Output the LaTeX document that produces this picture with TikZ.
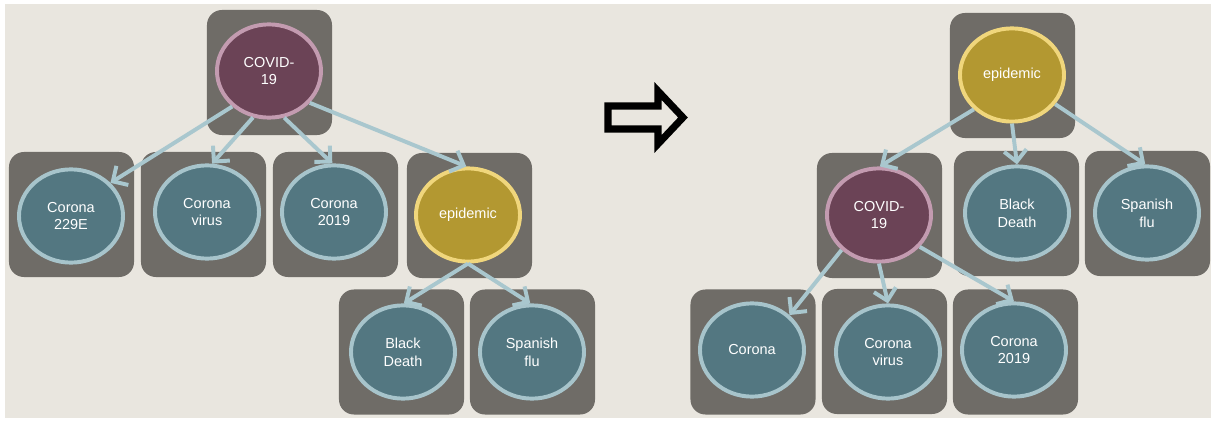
\documentclass[tikz,border=0pt]{standalone}
\usepackage{fontspec}
\setmainfont{Liberation Sans}
\usetikzlibrary{arrows.meta,shapes.geometric,shadows}

\definecolor{pagebg}{HTML}{E9E6DF}
\definecolor{boxgray}{HTML}{6F6C67}
\definecolor{tealfill}{HTML}{537781}
\definecolor{tealrim}{HTML}{A7C4CB}
\definecolor{covidfill}{HTML}{6B4356}
\definecolor{covidrim}{HTML}{C39BB0}
\definecolor{epifill}{HTML}{B39831}
\definecolor{epirim}{HTML}{F0D67C}
\definecolor{linkblue}{HTML}{A9C7CE}

\begin{document}
\begin{tikzpicture}[x=0.025cm,y=-0.025cm,
  tile/.style={fill=boxgray,rounded corners=0.375cm,minimum width=3.125cm,minimum height=3.125cm,inner sep=0pt},
  term/.style={ellipse,line width=2.8pt,minimum width=2.6cm,minimum height=2.33cm,inner sep=0pt,
    text=white,align=center,font=\fontsize{10.3}{12.6}\selectfont,
    drop shadow={shadow xshift=0pt,shadow yshift=-1.2pt,opacity=0.35}},
  leaf/.style={term,draw=tealrim,fill=tealfill},
  covid/.style={term,draw=covidrim,fill=covidfill},
  epi/.style={term,draw=epirim,fill=epifill},
  link/.style={draw=linkblue,line width=2.8pt,-{Straight Barb[length=8pt,width=16pt]}}]

% Background
\useasboundingbox (0,0) rectangle (1213,421);
\fill[white] (0,0) rectangle (1213,421);
\fill[pagebg] (5,4) rectangle (1211,418);

% Left tree: the tiles
\node[tile] (tlcovid) at (269.5,72.5) {};
\node[tile] (tlczze) at (71.5,214.5) {};
\node[tile] (tlcvirus) at (203.5,214.5) {};
\node[tile] (tlcnineteen) at (335.5,214.5) {};
\node[tile] (tlepi) at (469.5,215.5) {};
\node[tile] (tlblack) at (401.5,352) {};
\node[tile] (tlspanish) at (532.5,352) {};

% Left tree: the terms
\node[covid] (lcovid) at (269,71) {COVID-\\19};
\node[leaf] (lczze) at (71,216) {Corona\\229E};
\node[leaf] (lcvirus) at (207,212) {Corona\\virus};
\node[leaf] (lcnineteen) at (334,212) {Corona\\2019};
\node[epi] (lepi) at (468,215) {epidemic};
\node[leaf] (lblack) at (403,352) {Black\\Death};
\node[leaf] (lspanish) at (532,352) {Spanish\\flu};

% Left tree: the links
\draw[link] (lcovid.224) -- (lczze.40);
\draw[link] (lcovid.251) -- (lcvirus.84);
\draw[link] (lcovid.288) -- (lcnineteen.92);
\draw[link] (lcovid.322) -- (lepi.92);
\draw[link] (lepi.270) -- (lblack.89);
\draw[link] (lepi.270) -- (lspanish.92);

% The big arrow in the middle
\draw[line width=5pt,miter limit=10] (608,106) -- (658,106) -- (658,91) -- (683,117.5)
  -- (658,144) -- (658,129) -- (608,129) -- cycle;

% Right tree: the tiles
\node[tile] (trepi) at (1012.5,75.5) {};
\node[tile] (trblack) at (1016.5,213.5) {};
\node[tile] (trspanish) at (1147.5,213.5) {};
\node[tile] (trcovid) at (879.5,215.5) {};
\node[tile] (trcorona) at (753,352) {};
\node[tile] (trcvirus) at (884.5,351.5) {};
\node[tile] (trcnineteen) at (1015.5,352) {};

% Right tree: the terms
\node[epi] (repi) at (1012,75) {epidemic};
\node[leaf] (rblack) at (1017,213) {Black\\Death};
\node[leaf] (rspanish) at (1147,213) {Spanish\\flu};
\node[covid] (rcovid) at (879,215) {COVID-\\19};
\node[leaf] (rcorona) at (752,350) {Corona};
\node[leaf] (rcvirus) at (888,352) {Corona\\virus};
\node[leaf] (rcnineteen) at (1014,350) {Corona\\2019};

% Right tree: the links
\draw[link] (repi.222) -- (rcovid.89);
\draw[link] (repi.270) -- (rblack.90);
\draw[link] (repi.326) -- (rspanish.92);
\draw[link] (rcovid.223) -- (rcorona.43);
\draw[link] (rcovid.270) -- (rcvirus.90);
\draw[link] (rcovid.322) -- (rcnineteen.90);

\end{tikzpicture}
\end{document}
